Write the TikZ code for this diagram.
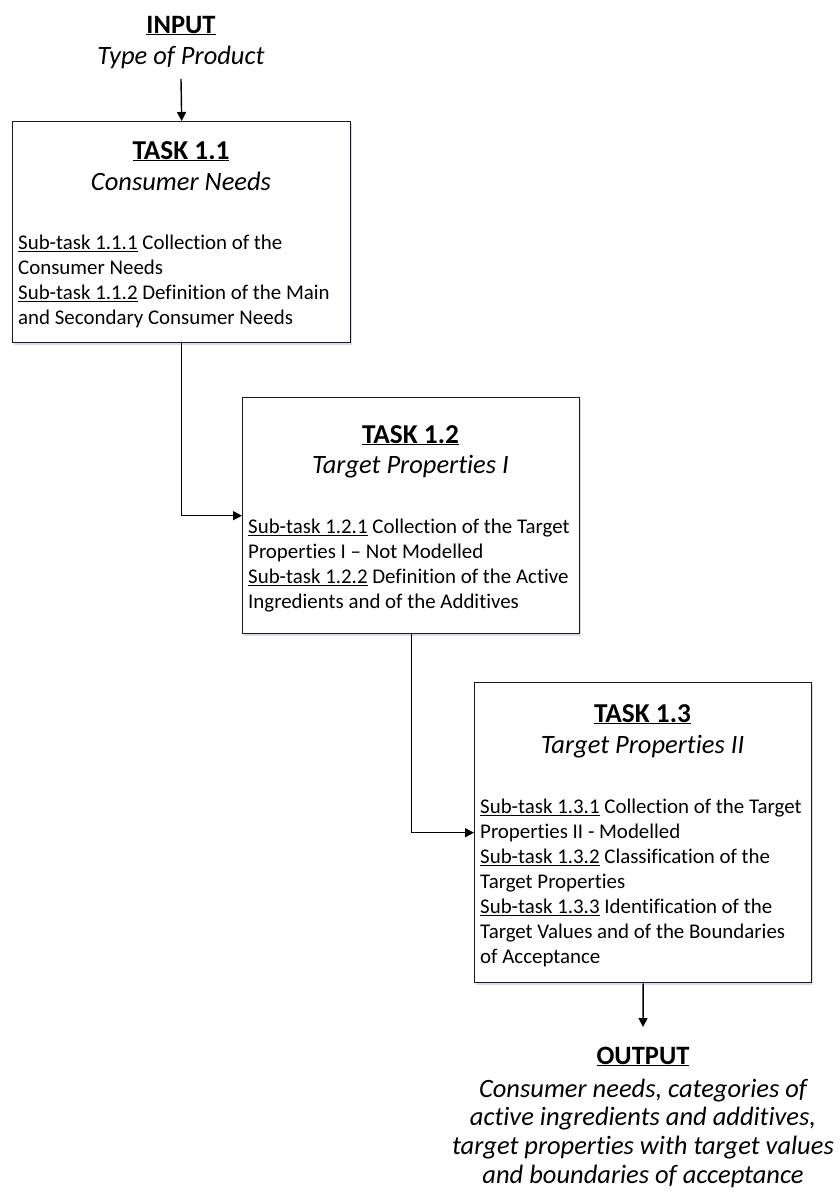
\documentclass[tikz,border=0pt]{standalone}
\usepackage{fontspec}
\setmainfont{Carlito}[Ligatures=NoCommon]
\usetikzlibrary{arrows.meta,shadows}
\begin{document}
\begin{tikzpicture}[x=1pt,y=-1pt,
  box/.style={draw=black!90, line width=1.4pt, fill=white, anchor=north west, inner sep=0pt,
    drop shadow={shadow xshift=1.2pt, shadow yshift=-1.8pt, opacity=0.22, fill=blue!30!gray}},
  ttl/.style={font=\fontsize{27.3}{32}\selectfont\bfseries, anchor=base, inner sep=0pt},
  subttl/.style={font=\fontsize{26.5}{30}\selectfont\itshape, anchor=base, inner sep=0pt},
  bodytxt/.style={font=\fontsize{20.9}{25}\selectfont, anchor=north west, inner sep=0pt, align=left},
  conn/.style={line width=1.4pt, draw=black},
  arr/.style={conn, -{Triangle[length=9pt,width=9pt]}}]
\useasboundingbox (0,0) rectangle (839,1195);

% input
\node[ttl, font=\fontsize{26.5}{30}\selectfont\bfseries] (intitle) at (181,33) {\underline{INPUT}};
\node[subttl] (intext) at (181,64) {Type of Product};
\coordinate (instart) at (181,79);

% task 1.1
\node[box, minimum width=338pt, minimum height=221pt] (t1) at (12,121) {};
\node[ttl] (t1title) at (181,159) {\underline{TASK 1.1}};
\node[subttl] (t1sub) at (181,190) {Consumer Needs};
\node[bodytxt] (t1body) at (18,249-17.5) {\strut\underline{Sub-task 1.1.1} Collection of the\\Consumer Needs\\\underline{Sub-task 1.1.2} Definition of the Main\\and Secondary Consumer Needs};

% task 1.2
\node[box, minimum width=337pt, minimum height=236pt] (t2) at (242,397) {};
\node[ttl] (t2title) at (410.5,443) {\underline{TASK 1.2}};
\node[subttl] (t2sub) at (410.5,473) {Target Properties I};
\node[bodytxt] (t2body) at (248,533-17.5) {\strut\underline{Sub-task 1.2.1} Collection of the Target\\Properties I -- Not Modelled\\\underline{Sub-task 1.2.2} Definition of the Active\\Ingredients and of the Additives};

% task 1.3
\node[box, minimum width=337pt, minimum height=300pt] (t3) at (474,682) {};
\node[ttl] (t3title) at (642.5,722) {\underline{TASK 1.3}};
\node[subttl] (t3sub) at (642.5,753) {Target Properties II};
\node[bodytxt] (t3body) at (480,813-17.5) {\strut\underline{Sub-task 1.3.1} Collection of the Target\\Properties II - Modelled\\\underline{Sub-task 1.3.2} Classification of the\\Target Properties\\\underline{Sub-task 1.3.3} Identification of the\\Target Values and of the Boundaries\\of Acceptance};

% output
\coordinate (outend) at (643,1027);
\node[ttl, font=\fontsize{26.5}{30}\selectfont\bfseries] (outtitle) at (643,1064) {\underline{OUTPUT}};
\node[font=\fontsize{26.5}{28.7}\selectfont\itshape, align=center, anchor=north, inner sep=0pt] (outtext) at (643,1097-20.09) {\strut Consumer needs, categories of\\active ingredients and additives,\\target properties with target values\\and boundaries of acceptance};

% connectors
\draw[arr] (instart) -- (t1.north);
\draw[arr] (t1.south) |- (t2.west);
\draw[arr] (t2.south) |- (t3.west);
\draw[arr] (t3.south) -- (outend);
\end{tikzpicture}
\end{document}
